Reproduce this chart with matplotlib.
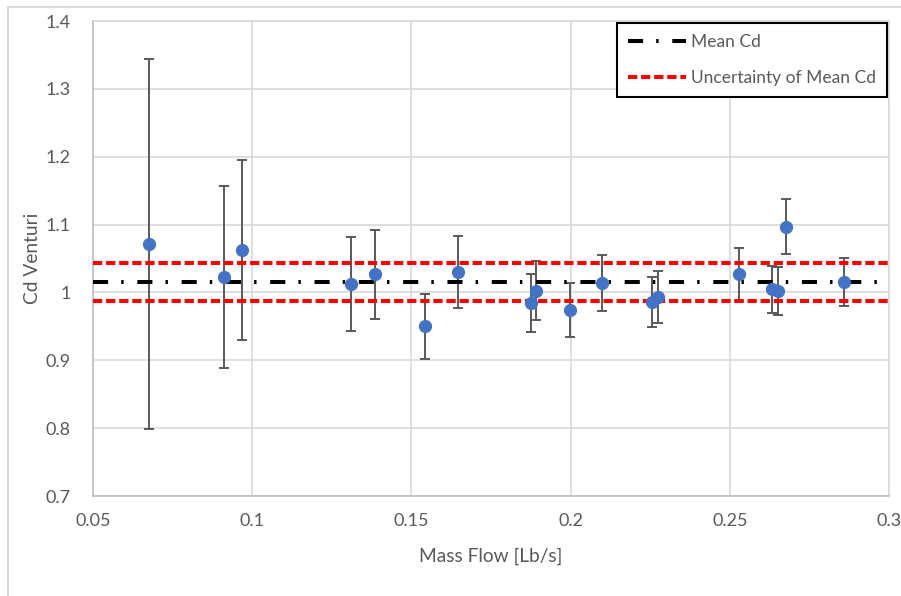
import matplotlib.pyplot as plt
from matplotlib.lines import Line2D

plt.rcParams['font.family'] = ['Lato', 'DejaVu Sans']

# measured venturi discharge coefficients
mass_flow = [0.0677, 0.0913, 0.0968, 0.1310, 0.1387, 0.1542, 0.1646, 0.1877, 0.1892,
             0.1997, 0.2100, 0.2257, 0.2273, 0.2528, 0.2634, 0.2650, 0.2678, 0.2858]
cd = [1.0715, 1.0230, 1.0622, 1.0122, 1.0265, 0.9500, 1.0299, 0.9843, 1.0024,
      0.9740, 1.0141, 0.9858, 0.9936, 1.0265, 1.0044, 1.0024, 1.0965, 1.0156]
cd_err = [0.2730, 0.1340, 0.1330, 0.0695, 0.0660, 0.0478, 0.0530, 0.0430, 0.0435,
          0.0395, 0.0412, 0.0372, 0.0380, 0.0385, 0.0350, 0.0355, 0.0405, 0.0356]

mean_cd = 1.0155
mean_unc = 0.0275

xlim = (0.05, 0.3)
ylim = (0.7, 1.4)
xticks = [0.05, 0.1, 0.15, 0.2, 0.25, 0.3]
xtick_labels = ['0.05', '0.1', '0.15', '0.2', '0.25', '0.3']
yticks = [0.7, 0.8, 0.9, 1.0, 1.1, 1.2, 1.3, 1.4]
ytick_labels = ['0.7', '0.8', '0.9', '1', '1.1', '1.2', '1.3', '1.4']

grey = '#595959'
grid = '#d9d9d9'

fig = plt.figure(figsize=(9.01, 5.96), dpi=100)
ax = fig.add_axes([93 / 901, 1 - 496 / 596, (889 - 93) / 901, (496 - 21) / 596])

ax.errorbar(mass_flow, cd, yerr=cd_err, fmt='none', ecolor=grey, elinewidth=1.4,
            capsize=3.8, capthick=1.4, zorder=3)
ax.plot(mass_flow, cd, 'o', color='#4472C4', markersize=8.5, zorder=5)

mean_line, = ax.plot(xlim, [mean_cd, mean_cd], color='black', linewidth=2.9,
                     label='Mean Cd', zorder=4)
mean_line.set_dashes([3.75, 3.25, 0.6, 3.4])
up, = ax.plot(xlim, [mean_cd + mean_unc] * 2, color='#ff0000', linewidth=2.9,
              label='Uncertainty of Mean Cd', zorder=4)
up.set_dashes([2.3, 0.95])
lo, = ax.plot(xlim, [mean_cd - mean_unc] * 2, color='#ff0000', linewidth=2.9, zorder=4)
lo.set_dashes([2.3, 0.95])

ax.set_xlim(*xlim)
ax.set_ylim(*ylim)
ax.set_xticks(xticks)
ax.set_xticklabels(xtick_labels)
ax.set_yticks(yticks)
ax.set_yticklabels(ytick_labels)
ax.tick_params(length=0, labelsize=13, colors=grey, pad=12)
ax.tick_params(axis='y', pad=16)
ax.grid(True, color=grid, linewidth=1.2, zorder=0)
ax.set_axisbelow(True)
for side in ['top', 'right']:
    ax.spines[side].set_color(grid)
    ax.spines[side].set_linewidth(1.2)
for side in ['left', 'bottom']:
    ax.spines[side].set_color('#bfbfbf')
    ax.spines[side].set_linewidth(1.2)

ax.set_xlabel('Mass Flow [Lb/s]', fontsize=13.8, color=grey, va='center')
ax.set_ylabel('Cd Venturi', fontsize=13.8, color=grey, va='center')
ax.xaxis.set_label_coords(0.5, -0.128)
ax.yaxis.set_label_coords(-0.0754, 0.501)

leg = ax.legend(handles=[mean_line, up], loc='upper right', bbox_to_anchor=(0.9975, 0.996),
                borderaxespad=0, fancybox=False, framealpha=1, edgecolor='black',
                fontsize=12.5, handlelength=3.3, handletextpad=0.3, labelspacing=1.15,
                borderpad=0.65)
leg.get_frame().set_linewidth(1.5)
for t in leg.get_texts():
    t.set_color(grey)

# chart area border (top and left edges)
fig.add_artist(Line2D([7.5 / 901, 7.5 / 901], [0, 1 - 7 / 596], color=grid, linewidth=1.5))
fig.add_artist(Line2D([7.5 / 901, 1], [1 - 7 / 596, 1 - 7 / 596], color=grid, linewidth=1.5))

fig.savefig('out.png', dpi=100)
